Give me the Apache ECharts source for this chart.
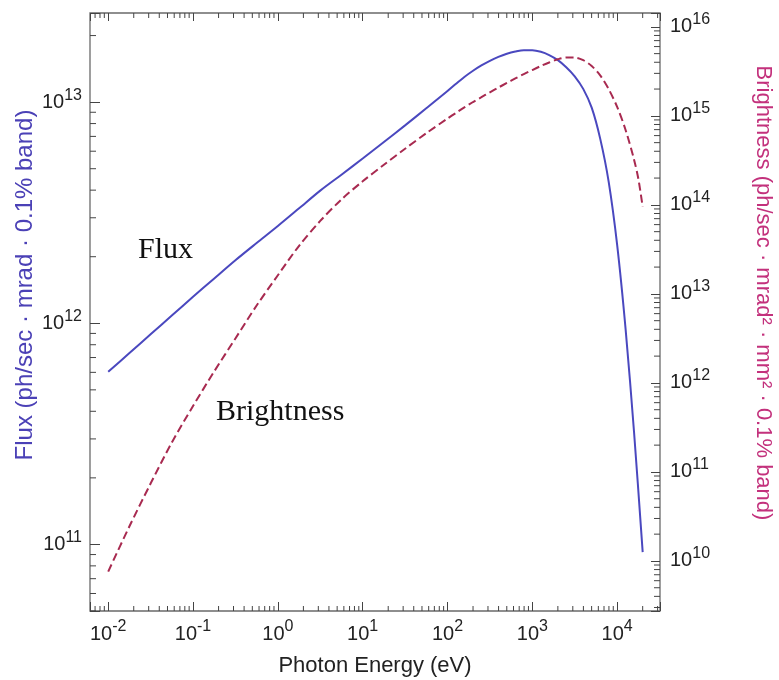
<!DOCTYPE html>
<html>
<head>
<meta charset="utf-8">
<title>Bending magnet flux and brightness</title>
<script src="https://cdn.jsdelivr.net/npm/echarts@6.0.0/dist/echarts.min.js"></script>
<style>
  html, body { margin: 0; padding: 0; background: #ffffff; }
  #chart { width: 779px; height: 680px; }
</style>
</head>
<body>
<div id="chart"></div>
<script>
// Photon energy (eV) and flux (ph/sec · mrad · 0.1% band)
const fluxEnergy = [0.01, 0.0178, 0.0316, 0.0562, 0.1, 0.178, 0.316, 0.562, 1, 1.78, 3.16, 5.62,
  10, 17.8, 31.6, 56.2, 100, 126, 158, 200, 251, 316, 398, 501, 631, 794, 1000, 1260, 1580,
  2000, 2510, 3160, 3980, 5010, 6310, 7940, 10000, 12600, 15800, 20000];
const fluxValues = [6.03e11, 7.33e11, 8.91e11, 1.084e12, 1.318e12, 1.596e12, 1.928e12, 2.307e12,
  2.754e12, 3.311e12, 3.981e12, 4.699e12, 5.559e12, 6.607e12, 7.852e12, 9.376e12, 1.122e13,
  1.211e13, 1.300e13, 1.387e13, 1.466e13, 1.538e13, 1.603e13, 1.656e13, 1.694e13, 1.718e13,
  1.718e13, 1.690e13, 1.633e13, 1.549e13, 1.439e13, 1.309e13, 1.148e13, 9.44e12, 6.84e12,
  4.37e12, 2.26e12, 9.33e11, 3.24e11, 9.23e10];

// Photon energy (eV) and brightness (ph/sec · mrad² · mm² · 0.1% band)
const brightEnergy = [0.01, 0.0178, 0.0316, 0.0562, 0.1, 0.178, 0.316, 0.562, 1, 1.78, 3.16,
  5.62, 10, 17.8, 31.6, 56.2, 100, 126, 158, 200, 251, 316, 398, 501, 631, 794, 1000, 1260,
  1580, 2000, 2510, 3160, 3980, 5010, 6310, 7940, 10000, 12600, 15800, 17800, 20000];
const brightValues = [7.6e9, 2.45e10, 7.4e10, 2.14e11, 5.5e11, 1.35e12, 3.16e12, 7.4e12, 1.62e13,
  3.47e13, 6.6e13, 1.15e14, 1.84e14, 2.82e14, 4.27e14, 6.38e14, 9.33e14, 1.08e15, 1.245e15,
  1.43e15, 1.62e15, 1.84e15, 2.08e15, 2.34e15, 2.63e15, 2.95e15, 3.27e15, 3.63e15, 3.98e15,
  4.32e15, 4.52e15, 4.52e15, 4.22e15, 3.63e15, 2.85e15, 2.0e15, 1.26e15, 6.9e14, 3.24e14,
  1.95e14, 9.5e13];

// Axis extents
const energyRange = [0.0061, 32000];
const fluxRange = [5.0e10, 2.53e13];
const brightRange = [2.74e9, 1.43e16];

// Text
const xTitle = 'Photon Energy (eV)';
const fluxTitle = 'Flux (ph/sec · mrad · 0.1% band)';
const brightTitle = 'Brightness (ph/sec · mrad² · mm² · 0.1% band)';
const fluxTag = 'Flux';
const brightTag = 'Brightness';

const FLUX_COLOR = '#4a48bf';
const BRIGHT_COLOR = '#a82a50';
const TICK_COLOR = '#444444';
const SANS = '"Liberation Sans", Arial, sans-serif';
const SERIF = '"Liberation Serif", "Times New Roman", serif';

// 2..9 × 10^n positions that fall inside a log range
function minorTicks(range) {
  const out = [];
  const lo = Math.floor(Math.log10(range[0]));
  const hi = Math.ceil(Math.log10(range[1]));
  for (let d = lo; d < hi; d++) {
    for (let m = 2; m <= 9; m++) {
      const v = m * Math.pow(10, d);
      if (v >= range[0] && v <= range[1]) out.push(v);
    }
  }
  return out;
}

// "10" with a raised exponent, only at whole decades
function powerLabel(v) {
  const e = Math.log10(v);
  const p = Math.round(e);
  if (Math.abs(e - p) > 1e-6) return '';
  return '{b|10}{s|' + p + '}';
}

const labelRich = {
  b: { fontSize: 20, lineHeight: 30, fontFamily: SANS, color: '#222222' },
  s: { fontSize: 16, verticalAlign: 'top', fontFamily: SANS, color: '#222222' }
};

function tickLine(x1, y1, x2, y2) {
  return { type: 'line', shape: { x1, y1, x2, y2 }, style: { stroke: TICK_COLOR, lineWidth: 1 } };
}

const xMinor = minorTicks(energyRange).map(v => [v, 1e12]);
const fluxMinor = minorTicks(fluxRange).map(v => [1, v]);
const brightMinor = minorTicks(brightRange).map(v => [1, v]);

const chart = echarts.init(document.getElementById('chart'), null, { renderer: 'canvas' });

const logAxisBase = {
  type: 'log',
  logBase: 10,
  axisLine: { show: false },
  splitLine: { show: false },
  minorTick: { show: false },
  minorSplitLine: { show: false }
};

chart.setOption({
  animation: false,
  backgroundColor: '#ffffff',
  grid: {
    left: 90, right: 119, top: 13, bottom: 69,
    show: true,
    borderColor: '#6a6a6a',
    borderWidth: 1.3,
    backgroundColor: 'transparent',
    containLabel: false,
    outerBoundsMode: 'none'
  },
  xAxis: [
    Object.assign({}, logAxisBase, {
      position: 'bottom',
      min: energyRange[0], max: energyRange[1],
      axisTick: { show: true, inside: true, length: 9, lineStyle: { color: TICK_COLOR, width: 1 } },
      axisLabel: { show: true, margin: 8, formatter: powerLabel, rich: labelRich },
      name: xTitle,
      nameLocation: 'middle',
      nameGap: 44,
      nameTextStyle: { fontSize: 22, fontFamily: SANS, color: '#222222' }
    }),
    Object.assign({}, logAxisBase, {
      position: 'top',
      min: energyRange[0], max: energyRange[1],
      axisTick: { show: true, inside: true, length: 8, lineStyle: { color: TICK_COLOR, width: 1 } },
      axisLabel: { show: false }
    })
  ],
  yAxis: [
    Object.assign({}, logAxisBase, {
      position: 'left',
      min: fluxRange[0], max: fluxRange[1],
      axisTick: { show: true, inside: true, length: 10, lineStyle: { color: TICK_COLOR, width: 1 } },
      axisLabel: { show: true, margin: 8, formatter: powerLabel, rich: labelRich }
    }),
    Object.assign({}, logAxisBase, {
      position: 'right',
      min: brightRange[0], max: brightRange[1],
      axisTick: { show: true, inside: true, length: 9, lineStyle: { color: TICK_COLOR, width: 1 } },
      axisLabel: { show: true, margin: 10, formatter: powerLabel, rich: labelRich }
    })
  ],
  series: [
    {
      name: 'Flux',
      type: 'line',
      xAxisIndex: 0, yAxisIndex: 0,
      data: fluxEnergy.map((e, i) => [e, fluxValues[i]]),
      showSymbol: false,
      smooth: 0.3,
      z: 5,
      lineStyle: { color: FLUX_COLOR, width: 2 }
    },
    {
      name: 'Brightness',
      type: 'line',
      xAxisIndex: 0, yAxisIndex: 1,
      data: brightEnergy.map((e, i) => [e, brightValues[i]]),
      showSymbol: false,
      smooth: 0.3,
      z: 5,
      lineStyle: { color: BRIGHT_COLOR, width: 2, type: [8, 4] }
    },
    {
      // minor ticks on the bottom and top energy axes
      type: 'custom',
      xAxisIndex: 0, yAxisIndex: 0,
      clip: false, silent: true, z: 3,
      data: xMinor,
      renderItem(params, api) {
        const cs = params.coordSys;
        const px = api.coord([api.value(0), api.value(1)])[0];
        const b = cs.y + cs.height, t = cs.y;
        return { type: 'group', children: [tickLine(px, b, px, b - 5), tickLine(px, t, px, t + 5)] };
      }
    },
    {
      // minor ticks on the flux axis
      type: 'custom',
      xAxisIndex: 0, yAxisIndex: 0,
      clip: false, silent: true, z: 3,
      data: fluxMinor,
      renderItem(params, api) {
        const cs = params.coordSys;
        const py = api.coord([api.value(0), api.value(1)])[1];
        return tickLine(cs.x, py, cs.x + 6, py);
      }
    },
    {
      // minor ticks on the brightness axis
      type: 'custom',
      xAxisIndex: 0, yAxisIndex: 1,
      clip: false, silent: true, z: 3,
      data: brightMinor,
      renderItem(params, api) {
        const cs = params.coordSys;
        const py = api.coord([api.value(0), api.value(1)])[1];
        const r = cs.x + cs.width;
        return tickLine(r, py, r - 6, py);
      }
    }
  ],
  graphic: [
    {
      type: 'text', x: 25, y: 285, rotation: Math.PI / 2, silent: true,
      style: { text: fluxTitle, fill: '#4b41b6', font: '24px ' + SANS,
               align: 'center', verticalAlign: 'middle', textAlign: 'center', textVerticalAlign: 'middle' }
    },
    {
      type: 'text', x: 763, y: 293, rotation: -Math.PI / 2, silent: true,
      style: { text: brightTitle, fill: '#c3317c', font: '22px ' + SANS,
               align: 'center', verticalAlign: 'middle', textAlign: 'center', textVerticalAlign: 'middle' }
    },
    {
      type: 'text', x: 138, y: 250, silent: true,
      style: { text: fluxTag, fill: '#111111', font: '30px ' + SERIF,
               align: 'left', verticalAlign: 'middle', textAlign: 'left', textVerticalAlign: 'middle' }
    },
    {
      type: 'text', x: 216, y: 412, silent: true,
      style: { text: brightTag, fill: '#111111', font: '30px ' + SERIF,
               align: 'left', verticalAlign: 'middle', textAlign: 'left', textVerticalAlign: 'middle' }
    }
  ]
});
</script>
</body>
</html>
